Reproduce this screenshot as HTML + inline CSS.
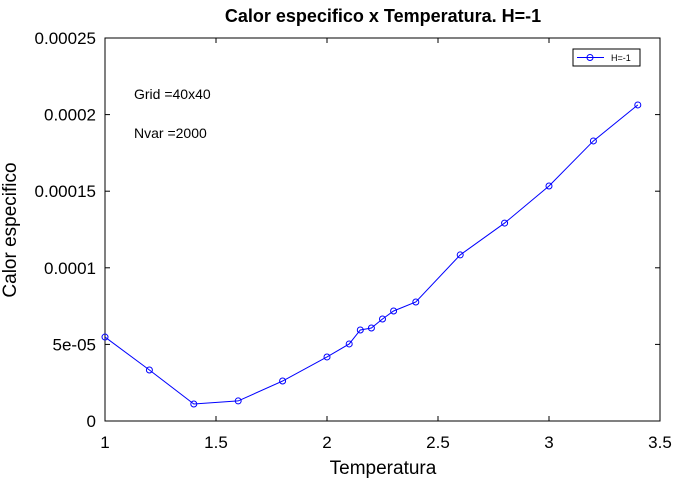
<!DOCTYPE html>
<html><head><meta charset="utf-8"><style>
body{margin:0;background:#fff}
svg{display:block;font-family:"Liberation Sans",sans-serif}
</style></head><body>
<svg id="c" width="692" height="481" viewBox="0 0 692 481">
<rect x="0" y="0" width="692" height="481" fill="#fff"/>
<text x="383" y="22" text-anchor="middle" font-size="18" font-weight="bold">Calor especifico x Temperatura. H=-1</text>
<rect x="105" y="38" width="555" height="383" fill="none" stroke="#000" stroke-width="1"/>
<g id="ticks"></g>
<text x="383" y="474" text-anchor="middle" font-size="19">Temperatura</text>
<text transform="translate(16,230) rotate(-90)" text-anchor="middle" font-size="19">Calor especifico</text>
<text x="134" y="99" font-size="14">Grid =40x40</text>
<text x="134" y="138" font-size="14">Nvar =2000</text>
<g id="series"></g>
<g>
<rect x="573" y="49" width="67" height="17" fill="#fff" stroke="#000" stroke-width="1"/>
<line x1="577" y1="57.5" x2="604" y2="57.5" stroke="#00f"/>
<circle cx="590" cy="57.5" r="3" fill="none" stroke="#00f"/>
<text x="611" y="61" font-size="9">H=-1</text>
</g>
</svg>
<script>
const temps=[1,1.2,1.4,1.6,1.8,2,2.1,2.15,2.2,2.25,2.3,2.4,2.6,2.8,3,3.2,3.4];
const cvals=[5.48e-5,3.33e-5,1.11e-5,1.31e-5,2.61e-5,4.18e-5,5.03e-5,5.94e-5,6.07e-5,6.66e-5,7.18e-5,7.77e-5,1.084e-4,1.292e-4,1.534e-4,1.828e-4,2.063e-4];
const xTicks=[1,1.5,2,2.5,3,3.5];
const xTickLabels=["1","1.5","2","2.5","3","3.5"];
const yTicks=[0,5e-5,1e-4,1.5e-4,2e-4,2.5e-4];
const yTickLabels=["0","5e-05","0.0001","0.00015","0.0002","0.00025"];
const NS="http://www.w3.org/2000/svg";
const X=v=>105+(v-1)/2.5*555;
const Y=v=>421-v/2.5e-4*383;
function mk(t,a,p){const e=document.createElementNS(NS,t);for(const k in a)e.setAttribute(k,a[k]);p.appendChild(e);return e;}
const tg=document.getElementById('ticks');
xTicks.forEach((v,i)=>{const x=X(v);
 mk('line',{x1:x,y1:421,x2:x,y2:416,stroke:'#000'},tg);
 mk('line',{x1:x,y1:38,x2:x,y2:43,stroke:'#000'},tg);
 const t=mk('text',{x:x,y:448,'text-anchor':'middle','font-size':17},tg);t.textContent=xTickLabels[i];
 
 });
yTicks.forEach((v,i)=>{const y=Y(v);
 mk('line',{x1:105,y1:y,x2:110,y2:y,stroke:'#000'},tg);
 mk('line',{x1:660,y1:y,x2:655,y2:y,stroke:'#000'},tg);
 const t=mk('text',{x:96,y:y+6,'text-anchor':'end','font-size':17},tg);t.textContent=yTickLabels[i];
 
 });
const sg=document.getElementById('series');
const pl=mk('polyline',{points:temps.map((t,i)=>X(t)+','+Y(cvals[i])).join(' '),fill:'none',stroke:'#00f','stroke-width':1},sg);


temps.forEach((t,i)=>{const c=mk('circle',{cx:X(t),cy:Y(cvals[i]),r:3,fill:'none',stroke:'#00f'},sg);
 
 });
</script>
</body></html>
